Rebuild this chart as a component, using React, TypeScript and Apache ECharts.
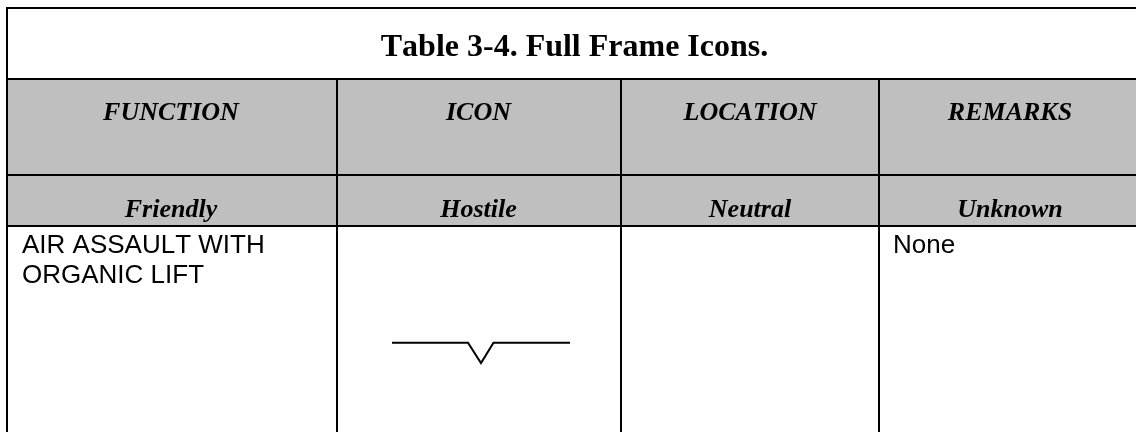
import React, { useEffect, useRef } from "react";
import * as echarts from "echarts";

const titleText = "Table 3-4. Full Frame Icons.";
const headerRow = ["FUNCTION", "ICON", "LOCATION", "REMARKS"];
const subHeaderRow = ["Friendly", "Hostile", "Neutral", "Unknown"];
const functionLines = ["AIR ASSAULT WITH", "ORGANIC LIFT"];
const remarksText = "None";

const colX = [7, 337, 621, 879, 1136];
const colCenter = [171, 478.5, 750, 1010];
const rowY = [8, 79, 175, 226, 432];
const iconPoints = [[392, 342.7], [468, 342.7], [481, 363], [493.5, 342.7], [570, 342.7]];
const GREY = "#bfbfbf";
const SERIF = "'Liberation Serif'";
const SANS = "'Liberation Sans'";

const line = (x1: number, y1: number, x2: number, y2: number) => ({
  type: "line",
  shape: { x1, y1, x2, y2 },
  style: { stroke: "#000", lineWidth: 2, lineCap: "butt" },
  silent: true,
});

const headText = (s: string, x: number, y: number) => ({
  type: "text",
  x,
  y,
  style: { text: s, fill: "#000", font: `italic bold 26px ${SERIF}`, textAlign: "center", textVerticalAlign: "middle" },
});

export default function App() {
  const ref = useRef<HTMLDivElement>(null);
  useEffect(() => {
    const chart = echarts.init(ref.current!, null, { renderer: "svg" });
    const elements: any[] = [
      { type: "rect", shape: { x: 0, y: 0, width: 1136, height: 432 }, style: { fill: "#fff" } },
      { type: "rect", shape: { x: colX[0], y: rowY[1], width: 1136 - colX[0], height: rowY[3] - rowY[1] }, style: { fill: GREY } },
      line(6, rowY[0], 1136, rowY[0]),
      line(colX[0], 7, colX[0], 432),
      line(6, rowY[1], 1136, rowY[1]),
      line(6, rowY[2], 1136, rowY[2]),
      line(6, rowY[3], 1136, rowY[3]),
      ...colX.slice(1, 4).map((x) => line(x, rowY[1], x, 432)),
      {
        type: "text",
        x: 574.5,
        y: 45,
        style: { text: titleText, fill: "#000", font: `bold 32px ${SERIF}`, textAlign: "center", textVerticalAlign: "middle" },
      },
      ...headerRow.map((s, i) => headText(s, colCenter[i], 111)),
      ...subHeaderRow.map((s, i) => headText(s, colCenter[i], 208)),
      ...functionLines.map((s, i) => ({
        type: "text",
        x: 22,
        y: 243.5 + i * 30,
        style: { text: s, fill: "#000", font: `26px ${SANS}`, textAlign: "left", textVerticalAlign: "middle" },
      })),
      {
        type: "text",
        x: 893,
        y: 243.5,
        style: { text: remarksText, fill: "#000", font: `26px ${SANS}`, textAlign: "left", textVerticalAlign: "middle" },
      },
      {
        type: "polyline",
        shape: { points: iconPoints },
        style: { stroke: "#000", lineWidth: 2, fill: "none" },
      },
    ];
    chart.setOption({ animation: false, graphic: { elements } });
    return () => chart.dispose();
  }, []);
  return (
    <>
      <style>{`svg text{font-kerning:none !important}`}</style>
      <div ref={ref} style={{ position: "fixed", left: 0, top: 0, width: 1136, height: 432 }} />
    </>
  );
}
